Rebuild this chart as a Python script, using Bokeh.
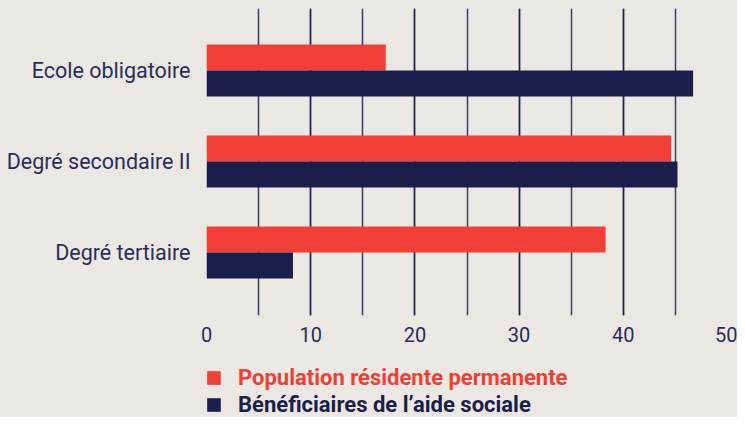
from bokeh.plotting import figure
from bokeh.models import ColumnDataSource, Range1d, FixedTicker, Legend, LegendItem
from bokeh.layouts import column
from bokeh.transform import dodge
from bokeh.embed import file_html
from bokeh.resources import INLINE

categories = ["Ecole obligatoire", "Degré secondaire II", "Degré tertiaire"]
population = [17.2, 44.6, 38.3]
aide_sociale = [46.7, 45.2, 8.3]
series_names = ["Population résidente permanente", "Bénéficiaires de l\u2019aide sociale"]
x_ticks = [0, 10, 20, 30, 40, 50]

BG = "#ebe8e3"
RED = "#ef3f36"
NAVY = "#1b1e4b"
TEXT = "#2a2d5c"

n = len(categories)
ypos = [n - 1 - i for i in range(n)]
src = ColumnDataSource(dict(y=ypos, cat=categories, pop=population, aide=aide_sociale))

p = figure(width=737, height=355, output_backend="svg", toolbar_location=None,
           x_range=Range1d(0, 50), y_range=Range1d(-0.692, n - 1 + 0.681),
           background_fill_color=BG, border_fill_color=BG,
           min_border_left=206, min_border_right=10, min_border_top=8, min_border_bottom=40)
p.outline_line_color = None

r1 = p.hbar(y=dodge("y", 0.143, range=p.y_range), right="pop", left=0, height=0.286,
            source=src, color=RED, line_color=None)
r2 = p.hbar(y=dodge("y", -0.143, range=p.y_range), right="aide", left=0, height=0.286,
            source=src, color=NAVY, line_color=None)

# x axis
p.xaxis.ticker = FixedTicker(ticks=x_ticks, minor_ticks=list(range(0, 51, 5)))
p.xaxis.axis_line_color = None
p.xaxis.major_tick_line_color = None
p.xaxis.minor_tick_line_color = None
p.xaxis.major_tick_out = 0
p.xaxis.minor_tick_out = 0
p.xaxis.major_label_standoff = 11
p.xaxis.major_label_text_font = "Roboto"
p.xaxis.major_label_text_font_size = "20px"
p.xaxis.major_label_text_color = TEXT

# y axis
p.yaxis.ticker = FixedTicker(ticks=ypos)
p.yaxis.major_label_overrides = {y: c for y, c in zip(ypos, categories)}
p.yaxis.axis_line_color = None
p.yaxis.major_tick_line_color = None
p.yaxis.minor_tick_line_color = None
p.yaxis.major_tick_out = 0
p.yaxis.minor_tick_out = 0
p.yaxis.major_label_standoff = 16
p.yaxis.major_label_text_font = "Roboto"
p.yaxis.major_label_text_font_size = "21.5px"
p.yaxis.major_label_text_color = TEXT

# grid
p.xgrid.grid_line_color = NAVY
p.xgrid.grid_line_width = 1.5
p.xgrid.grid_line_alpha = 0.85
p.xgrid.minor_grid_line_color = NAVY
p.xgrid.minor_grid_line_width = 1.5
p.xgrid.minor_grid_line_alpha = 0.85
p.ygrid.grid_line_color = None

# legend panel (its frame is aligned with the main frame by the column layout)
p2 = figure(width=737, height=62, output_backend="svg", toolbar_location=None,
            x_range=Range1d(0, 1), y_range=Range1d(0, 1),
            x_axis_type=None, y_axis_type=None,
            background_fill_alpha=0, border_fill_alpha=0,
            min_border_left=0, min_border_right=0, min_border_top=0, min_border_bottom=0)
p2.outline_line_color = None
l1 = p2.hbar(y="y", right="pop", left=0, height=0.3, source=src, color=RED, line_color=None,
             visible=False)
l2 = p2.hbar(y="y", right="aide", left=0, height=0.3, source=src, color=NAVY, line_color=None,
             visible=False)

for r, name, col, yloc in [(l1, series_names[0], RED, 27), (l2, series_names[1], NAVY, 0)]:
    leg = Legend(items=[LegendItem(label=name, renderers=[r])], location=(-1, yloc),
                 orientation="vertical", glyph_width=17, glyph_height=17, label_standoff=16,
                 label_text_font="Roboto", label_text_font_style="bold", label_text_font_size="22px",
                 label_text_color=col, background_fill_alpha=0, border_line_alpha=0,
                 inactive_fill_alpha=0, click_policy="none",
                 padding=0, margin=0, spacing=0, label_height=17)
    p2.add_layout(leg)

layout = column(p, p2, spacing=0, styles={"background-color": BG})
open("out.html", "w").write(file_html(layout, INLINE))
